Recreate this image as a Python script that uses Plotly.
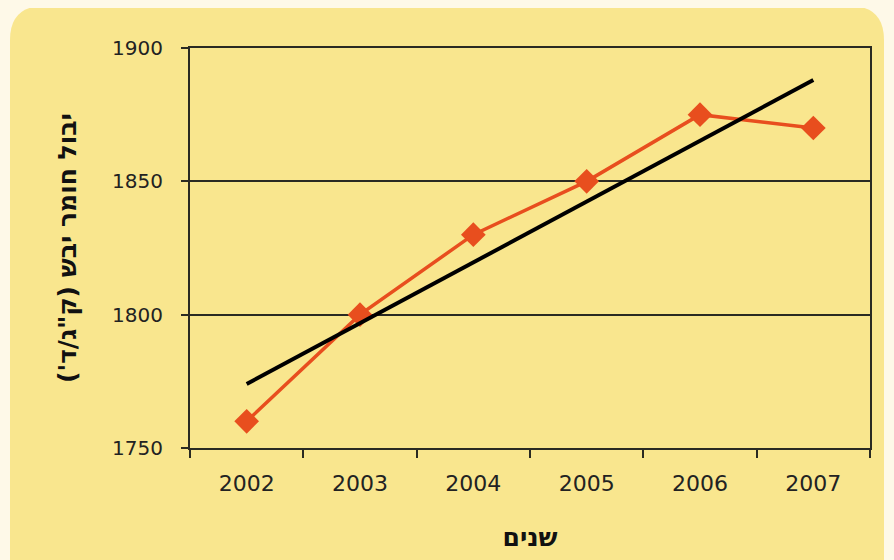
import plotly.graph_objects as go

# ---- data ----
years = ["2002", "2003", "2004", "2005", "2006", "2007"]
yield_values = [1760, 1800, 1830, 1850, 1875, 1870]
trend_years = ["2002", "2007"]
trend_values = [1774, 1888]

x_title = "שנים"
y_title = "יבול חומר יבש (ק\"ג/ד')"

# ---- style ----
OFF = 8                      # page body margin of the browser
W, H = 894 - OFF, 560 - OFF
PL, PR, PT, PB = 190, 870, 48, 448   # plot area in page pixels
YELLOW = "#F9E68E"
CREAM = "#FEF9E8"
ORANGE = "#E84E1E"
DARK = "#2a2a22"
FONT = "DejaVu Sans"

pw, ph = PR - PL, PB - PT


def px(x):
    return (x - PL) / pw


def py(y):
    return (PB - y) / ph


rx0, rx1, ry0, ry1, rad = 10, 884, 6, 620, 34
bg_path = (
    f"M {px(rx0)},{py(ry1)} L {px(rx0)},{py(ry0 + rad)} "
    f"Q {px(rx0)},{py(ry0)} {px(rx0 + rad)},{py(ry0)} "
    f"L {px(rx1 - rad)},{py(ry0)} "
    f"Q {px(rx1)},{py(ry0)} {px(rx1)},{py(ry0 + rad)} "
    f"L {px(rx1)},{py(ry1)} Z"
)

fig = go.Figure()
fig.add_trace(go.Scatter(
    x=years, y=yield_values, mode="lines+markers",
    line=dict(color=ORANGE, width=3.5),
    marker=dict(symbol="diamond", size=19, color=ORANGE),
    showlegend=False, hoverinfo="x+y",
))
fig.add_trace(go.Scatter(
    x=trend_years, y=trend_values, mode="lines",
    line=dict(color="#000000", width=4),
    showlegend=False, hoverinfo="skip",
))

fig.update_layout(
    width=W, height=H,
    margin=dict(l=PL - OFF, r=894 - PR, t=PT - OFF, b=560 - PB, pad=0),
    paper_bgcolor=CREAM,
    plot_bgcolor="rgba(0,0,0,0)",
    font=dict(family=FONT, color=DARK),
    shapes=[dict(type="path", path=bg_path, xref="paper", yref="paper",
                 fillcolor=YELLOW, line=dict(width=0), layer="below")],
)

fig.update_xaxes(
    type="category", categoryorder="array", categoryarray=years,
    range=[-0.5, len(years) - 0.5], automargin=False,
    showline=True, linecolor=DARK, linewidth=2, mirror=True,
    showgrid=False, zeroline=False,
    ticks="outside", tickson="boundaries", ticklen=8, tickwidth=2, tickcolor=DARK,
    tickfont=dict(size=22, color="#222"), ticklabelstandoff=15,
    title=dict(text=f"<b>{x_title}</b>", font=dict(size=25, color="#111"), standoff=33),
)
fig.update_yaxes(
    range=[1750, 1900], tickvals=[1750, 1800, 1850, 1900], automargin=False,
    showline=True, linecolor=DARK, linewidth=2, mirror=True,
    showgrid=True, gridcolor=DARK, gridwidth=2, zeroline=False,
    ticks="outside", ticklen=7, tickwidth=2, tickcolor=DARK,
    tickfont=dict(size=20, color="#222"), ticklabelstandoff=14,
    title=dict(text=f"<b>{y_title}</b>", font=dict(size=25, color="#111"), standoff=28),
)

fig.write_html(
    "out.html",
    post_script="document.body.style.background='" + CREAM + "';",
)
